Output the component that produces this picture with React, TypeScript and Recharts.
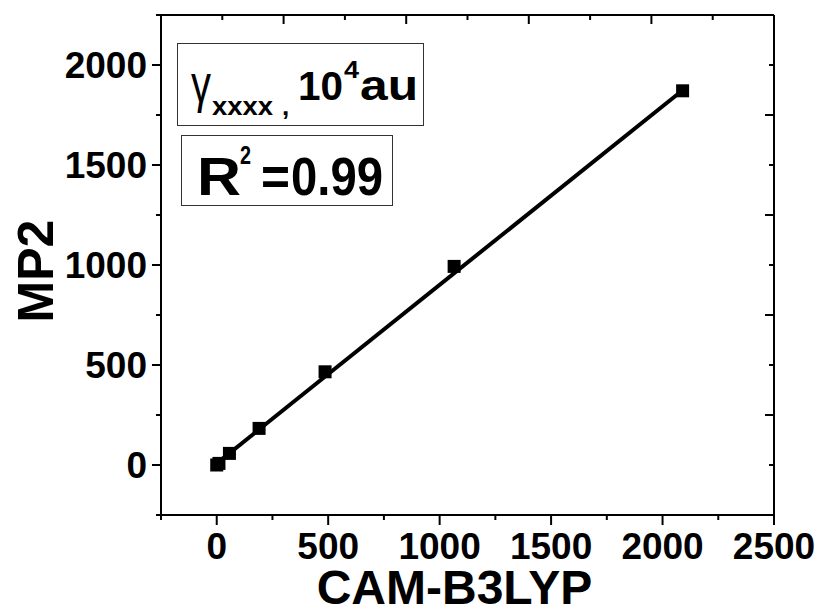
import { ScatterChart, Scatter, XAxis, YAxis, Label } from 'recharts';

// CAM-B3LYP vs MP2, gamma_xxxx in 10^4 au
const camB3lyp = [0, 10, 57, 190, 486, 1065, 2090];
const mp2 = [0, 8, 58, 183, 466, 993, 1871];

// linear fit drawn through the data, end points
const fitX = [0, 2090];
const fitY = [8, 1874];

const xTicks = [-250, 0, 250, 500, 750, 1000, 1250, 1500, 1750, 2000, 2250, 2500];
const yTicks = [-250, 0, 250, 500, 750, 1000, 1250, 1500, 1750, 2000, 2250];
const topTicks = [-250, 25, 300, 575, 850, 1125, 1400, 1675, 1950, 2225, 2500];
const rightTicks = [-250, 0, 250, 500, 750, 1000, 1250, 1500, 1750, 2000, 2250];

const points = camB3lyp.map((x, i) => ({ x, y: mp2[i] }));
const fitLine = fitX.map((x, i) => ({ x, y: fitY[i] }));

const FONT = '"Liberation Sans", Arial, sans-serif';
const TICK_FONT = 37;

const BottomTick = ({ x, y, payload }: any) => {
  const major = payload.value % 500 === 0;
  return (
    <g>
      <line x1={x} y1={y} x2={x} y2={y + (major ? 10 : 5)} stroke="#000" strokeWidth={2} />
      {major && (
        <text x={x} y={y + 44} textAnchor="middle" fontFamily={FONT} fontWeight="bold" fontSize={TICK_FONT} fill="#000" stroke="none">
          {payload.value}
        </text>
      )}
    </g>
  );
};

const LeftTick = ({ x, y, payload }: any) => {
  const major = payload.value % 500 === 0;
  return (
    <g>
      <line x1={x} y1={y} x2={x - (major ? 9 : 5)} y2={y} stroke="#000" strokeWidth={2} />
      {major && (
        <text x={x - 14} y={y + 13} textAnchor="end" fontFamily={FONT} fontWeight="bold" fontSize={TICK_FONT} fill="#000" stroke="none">
          {payload.value}
        </text>
      )}
    </g>
  );
};

const TopTick = ({ x, y, index }: any) => (
  <line x1={x} y1={y} x2={x} y2={y + (index % 2 === 0 ? 9 : 5)} stroke="#000" strokeWidth={2} />
);

const RightTick = ({ x, y, payload }: any) => {
  const major = (payload.value + 250) % 500 === 0;
  return <line x1={x} y1={y} x2={x - (major ? 9 : 5)} y2={y} stroke="#000" strokeWidth={2} />;
};

const Square = ({ cx, cy }: any) => <rect x={cx - 6.5} y={cy - 6.5} width={13} height={13} fill="#000" />;
const NoShape = () => <g />;

const XTitle = ({ viewBox }: any) => (
  <text x={viewBox.x + viewBox.width / 2 - 13} y={604} textAnchor="middle" fontFamily={FONT} fontWeight="bold" fontSize={48} fill="#000">
    CAM-B3LYP
  </text>
);

const YTitle = () => (
  <text x={53} y={271} textAnchor="middle" transform="rotate(-90 53 271)" fontFamily={FONT} fontWeight="bold" fontSize={50} fill="#000">
    MP2
  </text>
);

const axisLine = { stroke: '#000', strokeWidth: 2 };

function Annotations() {
  return (
    <svg width={820} height={612} style={{ position: 'absolute', left: 0, top: 0, pointerEvents: 'none' }} fontFamily={FONT} fill="#000">
      <rect x={177.5} y={43.5} width={246} height={82} fill="none" stroke="#333" strokeWidth={1} />
      <text x={191} y={102} fontSize={54} textLength={20} lengthAdjust="spacingAndGlyphs">γ</text>
      <text x={212} y={115} fontSize={26} fontWeight="bold" textLength={61} lengthAdjust="spacingAndGlyphs">xxxx</text>
      <text x={282} y={115} fontSize={26} fontWeight="bold">,</text>
      <text x={298} y={100} fontSize={40} fontWeight="bold" textLength={45} lengthAdjust="spacingAndGlyphs">10</text>
      <text x={344} y={78} fontSize={23} fontWeight="bold" textLength={15} lengthAdjust="spacingAndGlyphs">4</text>
      <text x={360} y={100} fontSize={42} fontWeight="bold" textLength={58} lengthAdjust="spacingAndGlyphs">au</text>

      <rect x={181.5} y={135.5} width={211} height={70} fill="none" stroke="#333" strokeWidth={1} />
      <text x={197} y={195} fontSize={53} fontWeight="bold" textLength={44} lengthAdjust="spacingAndGlyphs">R</text>
      <text x={240} y={164} fontSize={26} fontWeight="bold" textLength={11} lengthAdjust="spacingAndGlyphs">2</text>
      <text x={261} y={195} fontSize={53} fontWeight="bold" textLength={29} lengthAdjust="spacingAndGlyphs">=</text>
      <text x={291} y={195} fontSize={53} fontWeight="bold" textLength={92} lengthAdjust="spacingAndGlyphs">0.99</text>
    </svg>
  );
}

export default function App() {
  return (
    <div style={{ position: 'absolute', left: 0, top: 0, width: 820, height: 612, background: '#fff' }}>
      <ScatterChart width={820} height={612} margin={{ top: 14, right: 45, bottom: 37, left: 61 }}>
        <XAxis
          dataKey="x"
          type="number"
          domain={[-250, 2500]}
          ticks={xTicks}
          interval={0}
          height={60}
          tickSize={0}
          tickMargin={0}
          tick={<BottomTick />}
          stroke="#000"
          axisLine={axisLine}
        >
          <Label content={<XTitle />} />
        </XAxis>
        <XAxis
          xAxisId="top"
          dataKey="x"
          orientation="top"
          type="number"
          domain={[-250, 2500]}
          ticks={topTicks}
          interval={0}
          height={1}
          tickSize={0}
          tickMargin={0}
          tick={<TopTick />}
          stroke="#000"
          axisLine={axisLine}
        />
        <YAxis
          dataKey="y"
          type="number"
          domain={[-250, 2250]}
          ticks={yTicks}
          interval={0}
          width={100}
          tickSize={0}
          tickMargin={0}
          tick={<LeftTick />}
          stroke="#000"
          axisLine={axisLine}
        >
          <Label content={<YTitle />} />
        </YAxis>
        <YAxis
          yAxisId="right"
          dataKey="y"
          orientation="right"
          type="number"
          domain={[-250, 2250]}
          ticks={rightTicks}
          interval={0}
          width={1}
          tickSize={0}
          tickMargin={0}
          tick={<RightTick />}
          stroke="#000"
          axisLine={axisLine}
        />
        <Scatter data={fitLine} line={{ stroke: '#000', strokeWidth: 4 }} lineType="joint" shape={<NoShape />} isAnimationActive={false} />
        <Scatter data={points} shape={<Square />} isAnimationActive={false} />
        {/* frame axes (top/right) need a series bound to them to render */}
        <Scatter data={fitLine} xAxisId="top" yAxisId="right" shape={<NoShape />} isAnimationActive={false} />
      </ScatterChart>
      <Annotations />
    </div>
  );
}
